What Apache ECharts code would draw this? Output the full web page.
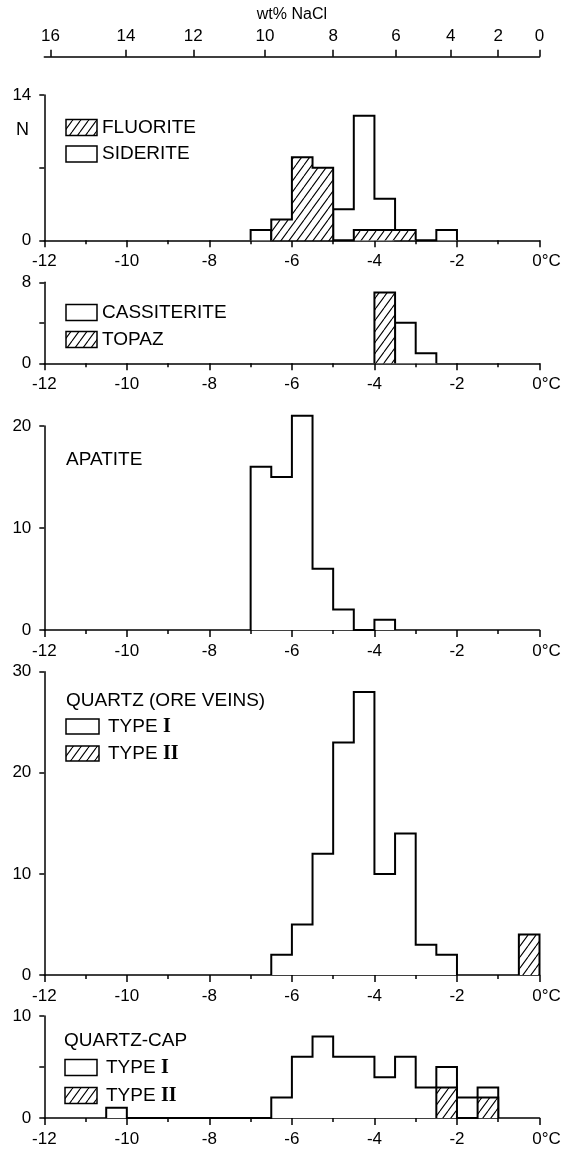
<!DOCTYPE html>
<html>
<head>
<meta charset="utf-8">
<script src="https://cdn.jsdelivr.net/npm/echarts@6/dist/echarts.min.js"></script>
<style>
  html, body { margin: 0; padding: 0; background: #fff; }
  #chart { width: 564px; height: 1156px; }
</style>
</head>
<body>
<div id="chart"></div>
<script>
// Freezing temperatures of fluid inclusions, grouped in 0.5 °C bins.
const BIN = 0.5;
const T_MIN = -12;
const T_MAX = 0;

// Each histogram: [lower bin edge in °C, number of inclusions]
const fluorite      = [[-6.5, 2], [-6, 8], [-5.5, 7], [-4.5, 1], [-4, 1], [-3.5, 1]];
const siderite      = [[-7, 1], [-5, 3], [-4.5, 12], [-4, 4], [-2.5, 1]];
const cassiterite   = [[-3.5, 4], [-3, 1]];
const topaz         = [[-4, 7]];
const apatite       = [[-7, 16], [-6.5, 15], [-6, 21], [-5.5, 6], [-5, 2], [-4, 1]];
const quartzVeinsI  = [[-6.5, 2], [-6, 5], [-5.5, 12], [-5, 23], [-4.5, 28], [-4, 10], [-3.5, 14], [-3, 3], [-2.5, 2]];
const quartzVeinsII = [[-0.5, 4]];
const quartzCapI    = [[-10.5, 1], [-6.5, 2], [-6, 6], [-5.5, 8], [-5, 6], [-4.5, 6], [-4, 4], [-3.5, 6], [-3, 3], [-2.5, 5], [-2, 2], [-1.5, 3]];
const quartzCapII   = [[-2.5, 3], [-1.5, 2]];

// Salinity scale along the top: wt% NaCl and the temperature each tick sits at
const naclLabels    = [16, 14, 12, 10, 8, 6, 4, 2, 0];
const naclTickTemps = [-11.85, -10.02, -8.39, -6.65, -5.0, -3.48, -2.15, -1.0, 0];

// Count axes of the five panels
const countMax       = [14, 8, 20, 30, 10];
const countTickStep  = [7, 4, 10, 10, 5];
const countLabelStep = [14, 8, 10, 10, 10];

// ---- layout ----
const FONT = '"Liberation Sans", Arial, Helvetica, sans-serif';
const SERIF = '"Liberation Serif", "Times New Roman", serif';
const GRID_LEFT = 44.3;
const GRID_RIGHT = 24.5;
const panelTop    = [95, 282.3, 426, 671.7, 1016];
const panelHeight = [145.3, 81, 204, 303.3, 102];

// Diagonal hatching used for the shaded histograms
function makeHatch() {
  const w = 8, h = 11;
  const c = document.createElement('canvas');
  c.width = w; c.height = h;
  const ctx = c.getContext('2d');
  ctx.fillStyle = '#fff';
  ctx.fillRect(0, 0, w, h);
  ctx.strokeStyle = '#000';
  ctx.lineWidth = 1.1;
  ctx.beginPath();
  for (let k = -1; k <= 1; k++) {
    ctx.moveTo(k * w, h);
    ctx.lineTo((k + 1) * w, 0);
  }
  ctx.stroke();
  return c;
}
const hatch = { image: makeHatch(), repeat: 'repeat' };

// Turn bins into a stepped outline: start on the baseline, climb, step across, return to baseline
function outline(bins) {
  const n = Math.round((T_MAX - T_MIN) / BIN);
  const counts = new Array(n).fill(0);
  bins.forEach(([edge, c]) => { counts[Math.round((edge - T_MIN) / BIN)] = c; });
  const first = counts.findIndex(c => c > 0);
  let last = n - 1;
  while (counts[last] === 0) last--;
  const edgeAt = i => T_MIN + i * BIN;
  const pts = [[edgeAt(first), 0]];
  for (let i = first; i <= last; i++) pts.push([edgeAt(i), counts[i]]);
  pts.push([edgeAt(last + 1), 0]);
  return pts;
}

function histSeries(name, bins, panel, hatched) {
  return {
    type: 'line',
    name: name,
    xAxisIndex: panel + 1,
    yAxisIndex: panel + 1,
    data: outline(bins),
    step: 'end',
    symbol: 'none',
    clip: false,
    silent: true,
    z: hatched ? 4 : 3,
    lineStyle: { color: '#000', width: 2, join: 'miter' },
    itemStyle: { color: '#000' },
    areaStyle: { color: hatched ? hatch : '#fff', opacity: 1 }
  };
}

const grids = [{ left: GRID_LEFT, right: GRID_RIGHT, top: 56.7, height: 1, outerBoundsMode: 'none', containLabel: false }];
panelTop.forEach((t, i) => grids.push({
  left: GRID_LEFT, right: GRID_RIGHT, top: t, height: panelHeight[i], outerBoundsMode: 'none', containLabel: false
}));

const axisLineStyle = { color: '#000', width: 1.5 };

const xAxes = [{
  gridIndex: 0,
  type: 'value',
  position: 'top',
  min: T_MIN,
  max: T_MAX,
  name: 'wt% NaCl',
  nameLocation: 'middle',
  nameGap: 34,
  nameTextStyle: { fontSize: 16, fontFamily: FONT, color: '#000' },
  axisLine: { show: true, onZero: false, lineStyle: axisLineStyle },
  axisTick: { show: true, inside: false, length: 7, customValues: naclTickTemps, lineStyle: axisLineStyle },
  axisLabel: {
    show: true,
    customValues: naclTickTemps,
    margin: 12,
    fontSize: 17,
    fontFamily: FONT,
    color: '#000',
    formatter: v => {
      let best = 0;
      naclTickTemps.forEach((t, i) => { if (Math.abs(t - v) < Math.abs(naclTickTemps[best] - v)) best = i; });
      return String(naclLabels[best]);
    }
  },
  splitLine: { show: false }
}];
const yAxes = [{ gridIndex: 0, type: 'value', show: false, min: 0, max: 1 }];

for (let p = 0; p < 5; p++) {
  xAxes.push({
    gridIndex: p + 1,
    type: 'value',
    position: 'bottom',
    min: T_MIN,
    max: T_MAX,
    interval: 2,
    axisLine: { show: true, onZero: false, lineStyle: axisLineStyle },
    axisTick: { show: true, length: 7, lineStyle: axisLineStyle },
    minorTick: { show: true, splitNumber: 2, length: 4, lineStyle: { color: '#000', width: 1.5 } },
    axisLabel: {
      margin: 13,
      fontSize: 17,
      fontFamily: FONT,
      color: '#000',
      showMinLabel: true,
      showMaxLabel: true,
      formatter: v => (v === 0 ? '{c|0°C}' : String(v)),
      rich: { c: { fontSize: 17, fontFamily: FONT, color: '#000', padding: [0, 0, 0, 14] } }
    },
    splitLine: { show: false },
    minorSplitLine: { show: false }
  });
  yAxes.push({
    gridIndex: p + 1,
    type: 'value',
    position: 'left',
    min: 0,
    max: countMax[p],
    interval: countTickStep[p],
    axisLine: { show: true, onZero: false, lineStyle: axisLineStyle },
    axisTick: { show: true, length: 5, lineStyle: axisLineStyle },
    axisLabel: {
      margin: 13,
      fontSize: 17,
      fontFamily: FONT,
      color: '#000',
      formatter: v => (v % countLabelStep[p] === 0 ? String(v) : '')
    },
    splitLine: { show: false }
  });
}

const series = [
  histSeries('SIDERITE', siderite, 0, false),
  histSeries('FLUORITE', fluorite, 0, true),
  histSeries('CASSITERITE', cassiterite, 1, false),
  histSeries('TOPAZ', topaz, 1, true),
  histSeries('APATITE', apatite, 2, false),
  histSeries('TYPE I', quartzVeinsI, 3, false),
  histSeries('TYPE II', quartzVeinsII, 3, true),
  histSeries('TYPE I', quartzCapI, 4, false),
  histSeries('TYPE II', quartzCapII, 4, true)
];

// Key boxes and panel captions
const LEGEND_SIZE = 19;
function keyBox(x, y, w, h, hatched) {
  return { type: 'rect', shape: { x: x, y: y, width: w, height: h },
           style: { fill: hatched ? hatch : '#fff', stroke: '#000', lineWidth: 1.5 }, z: 10 };
}
function caption(x, y, text, size) {
  return { type: 'text', x: x, y: y, z: 10,
           style: { text: text, fontSize: size || LEGEND_SIZE, fontFamily: FONT, fill: '#000',
                    verticalAlign: 'middle', align: 'left',
                    rich: { r: { fontSize: LEGEND_SIZE + 1, fontFamily: SERIF, fontWeight: 'bold', fill: '#000' } } } };
}

const graphics = [
  caption(16, 130, 'N', 18),
  keyBox(66, 119.5, 31, 16, true),  caption(102, 127.5, 'FLUORITE'),
  keyBox(66, 146, 31, 16, false),   caption(102, 154, 'SIDERITE'),
  keyBox(66, 304.5, 31, 16, false), caption(102, 312.5, 'CASSITERITE'),
  keyBox(66, 331.5, 31, 16, true),  caption(102, 339.5, 'TOPAZ'),
  caption(66, 459.5, 'APATITE'),
  caption(66, 701, 'QUARTZ (ORE VEINS)'),
  keyBox(66, 719, 33, 15, false),   caption(108, 726.7, 'TYPE {r|I}'),
  keyBox(66, 746, 33, 15, true),    caption(108, 753.5, 'TYPE {r|II}'),
  caption(64, 1040.7, 'QUARTZ-CAP'),
  keyBox(65, 1059.5, 32, 16, false), caption(106, 1067.7, 'TYPE {r|I}'),
  keyBox(65, 1087.5, 32, 16, true),  caption(106, 1095.5, 'TYPE {r|II}')
];

const chart = echarts.init(document.getElementById('chart'), null, { renderer: 'canvas' });
chart.setOption({
  animation: false,
  backgroundColor: '#fff',
  textStyle: { fontFamily: FONT },
  grid: grids,
  xAxis: xAxes,
  yAxis: yAxes,
  series: series,
  graphic: graphics
});
</script>
</body>
</html>
